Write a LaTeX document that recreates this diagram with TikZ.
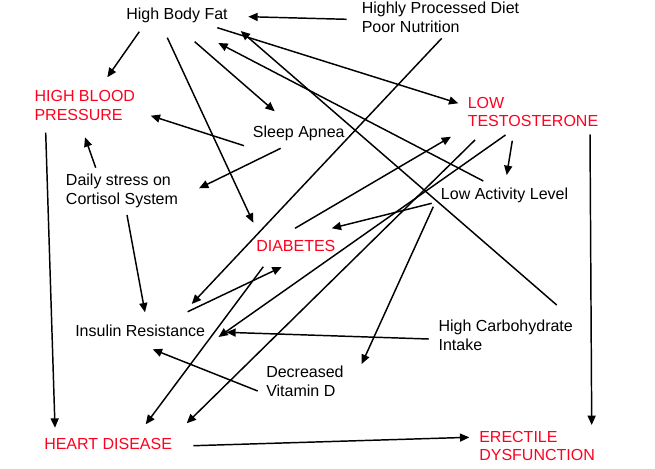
\documentclass[tikz,border=0pt]{standalone}
\usepackage{fontspec}
\setmainfont{Liberation Sans}
\usepackage{tikz}
\usetikzlibrary{arrows.meta}
\definecolor{riskred}{RGB}{255,0,30}
\tikzset{
  risknode/.style = {align=left, inner sep=0pt, anchor=base west,
    font=\fontsize{12}{13.75}\selectfont},% base = last line
  risk_n/.style = {risknode, black},% facteur, texte noir
  risk_r/.style = {risknode, text=riskred},% maladie, texte rouge
  link/.style = {line width=1.1pt}
}
\begin{document}
\begin{tikzpicture}[->,>={Triangle[length=7pt,width=6pt]},x=0.75pt,y=-0.75pt]
  \useasboundingbox (0,0) rectangle (655,468);
  \node [risk_n] (hbf) at (126,19.3)    {High Body Fat};
  \node [risk_n] (hpd) at (361.5,32.3)  {Highly Processed Diet\\Poor Nutrition};
  \node [risk_r] (hbp) at (34.3,120)    {HIGH BLOOD\\PRESSURE};
  \node [risk_r] (lt)  at (467.5,126.6) {LOW\\TESTOSTERONE};
  \node [risk_n] (sa)  at (252.7,137.7) {Sleep Apnea};
  \node [risk_n] (ds)  at (65.7,204.3)  {Daily stress on\\Cortisol System};
  \node [risk_n] (lal) at (440.7,199)   {Low Activity Level};
  \node [risk_r] (dia) at (256,251)     {DIABETES};
  \node [risk_n] (ir)  at (75,336.7)    {Insulin Resistance};
  \node [risk_n] (hci) at (438.3,350)   {High Carbohydrate\\Intake};
  \node [risk_n] (vd)  at (266,396)     {Decreased\\Vitamin D};
  \node [risk_r] (hd)  at (44,449)      {HEART DISEASE};
  \node [risk_r] (ed)  at (479,460.6)   {ERECTILE\\DYSFUNCTION};

  \foreach \from/\fx/\fy/\to/\tx/\ty in {
      hpd/-14.8/-13/hbf/122.3/-2.6, hpd/80.2/6/ir/116.7/-32.7,
      hbf/13.3/12.4/hbp/73/-42.7, hbf/68.7/22.4/sa/22/-26.4,
      hbf/41.3/18.4/dia/-2.7/-28.3, hbf/91.3/8.4/lt/-9.2/-23.3,
      hci/118.4/-45/hbf/114.7/11.7, hci/-9.5/-11/ir/151.3/-4.4,
      lal/42.6/-18/hbf/92.3/23.7, lal/-9/4.3/dia/75.7/-22.7,
      lal/-7.4/7.7/vd/95.7/-32,
      sa/-8.7/8/hbp/116.4/-4.3, sa/28/10.6/ds/133.3/-16,
      ds/30/-36.6/hbp/50.7/17.3, ds/61.3/10.7/ir/70/-24.4,
      hbp/11.4/12.7/hd/11/-21.3, ir/112.7/-25/dia/25.7/16,
      dia/39/-22.7/lt/-16.5/10.1, dia/7.3/15.7/hd/101.7/-24.7,
      lt/44.8/14.1/lal/66/-24, lt/122.5/7.7/ed/112.7/-35.6,
      lt/38/8.4/ir/143.5/0.3, lt/7.5/13.4/hd/142.7/-25.7,
      vd/-8.3/-5/ir/77.7/12.6, hd/149.3/-3.3/ed/-9.7/-23.3}
    \draw [link] ([shift={(\fx,\fy)}]\from.base west) -- ([shift={(\tx,\ty)}]\to.base west);
\end{tikzpicture}
\end{document}
